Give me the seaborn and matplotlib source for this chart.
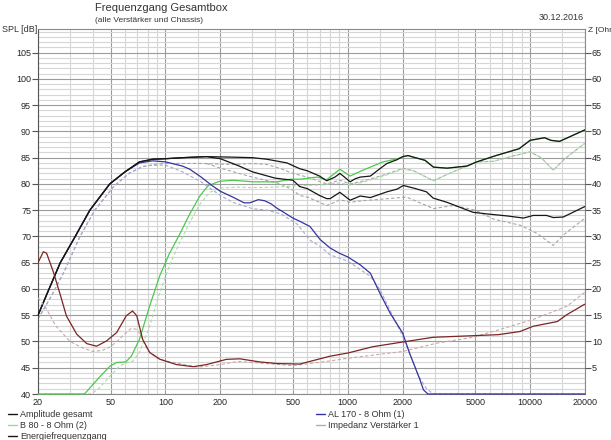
import numpy as np
import pandas as pd
import matplotlib
matplotlib.use("Agg")
import matplotlib.pyplot as plt
from matplotlib.lines import Line2D
from matplotlib.ticker import FixedLocator, NullFormatter
import seaborn as sns

sns.set_style("white")
plt.rcParams['font.family'] = ['Liberation Sans', 'DejaVu Sans']
plt.rcParams['font.size'] = 6.5

# ---- data (SPL in dB, impedance in Ohm) ----
amp_freq = [20, 23, 26.5, 32, 38.5, 49.5, 60, 72, 85, 100, 124, 168, 234, 300, 360, 464,
            545, 600, 700, 766, 850, 905, 960, 1030, 1100, 1170, 1330, 1500, 1640, 1860,
            2000, 2140, 2290, 2650, 2950, 3500, 4500, 5100, 6500, 8700, 10000, 12000,
            13000, 14500, 20000]
amp_spl = [55, 60, 65, 70, 75, 80, 82.3, 84.2, 84.7, 84.8, 85.0, 85.2, 85.1, 85.0, 84.7, 84.0,
           82.9, 82.5, 81.5, 80.6, 81.3, 82.0, 81.3, 80.4, 81.0, 81.3, 81.5, 82.9, 83.9, 84.6,
           85.2, 85.4, 85.1, 84.5, 83.2, 83.0, 83.4, 84.2, 85.4, 86.7, 88.3, 88.8,
           88.3, 88.1, 90.3]

energy_freq = [20, 23, 26.5, 32, 38.5, 49.5, 60, 72, 85, 100, 124, 168, 200, 250, 300, 400,
               500, 545, 600, 700, 766, 800, 905, 1030, 1170, 1330, 1640, 1860, 2020, 2300,
               2700, 2940, 3500, 4860, 5770, 7500, 9200, 10400, 12300, 13400, 15200, 19700,
               20000]
energy_spl = [55, 60, 65, 70, 75, 80, 82.3, 84.2, 84.7, 84.8, 85.0, 85.2, 84.8, 83.5, 82.3, 81.1,
              80.7, 79.5, 79.1, 77.8, 77.2, 77.2, 78.4, 76.9, 77.7, 77.4, 78.5, 79.0, 79.7, 79.2,
              78.5, 77.3, 76.5, 74.6, 74.3, 73.9, 73.5, 74.0, 74.0, 73.6, 73.7, 75.6,
              75.7]

b80_freq = [20, 36, 38.6, 43.7, 49.6, 54, 60.6, 65, 72, 82, 93, 105, 120, 136, 155, 172, 198,
            234, 303, 410, 483, 545, 680, 766, 905, 1030, 1170, 1560, 1880, 2020, 2140, 2290,
            2650, 2950, 3500, 4500, 5100, 6500, 8700, 10000, 12000, 13000, 14500, 20000]
b80_spl = [40, 40, 41.2, 43.3, 45.3, 46, 46.1, 47.2, 50.4, 56.8, 62.5, 66.7, 70.5, 74.3, 77.8, 79.7, 80.5,
           80.7, 80.4, 80.4, 80.9, 80.9, 81.3, 80.8, 82.8, 81.5, 82.4, 84.2, 84.8, 85.2, 85.4, 85.1,
           84.5, 83.2, 83.0, 83.4, 84.2, 85.4, 86.7, 88.3, 88.8, 88.3, 88.1, 90.3]

al170_freq = [20, 23, 26.5, 32, 38.5, 49.5, 60, 72, 85, 100, 124, 136, 157, 180, 200, 234, 270,
              290, 323, 350, 380, 408, 445, 500, 545, 620, 706, 800, 900, 1000, 1170, 1330,
              1500, 1707, 2000, 2181, 2483, 2600, 2750, 20000]
al170_spl = [55, 60, 65, 70, 75, 80, 82.3, 84.0, 84.4, 84.2, 83.4, 82.8, 81.3, 79.7, 78.6, 77.5, 76.4,
             76.4, 77.0, 76.8, 76.2, 75.4, 74.6, 73.5, 72.9, 71.9, 69.4, 67.8, 66.8, 66.1, 64.6, 63.0,
             59.2, 55.4, 51.6, 47.8, 42.8, 40.8, 40, 40]

imp_freq = [20, 21.4, 22.3, 24.3, 26.6, 28.6, 32.6, 37, 41.9, 47.5, 54, 61, 66, 69.6, 75, 82,
            93.5, 115, 142, 168, 216, 256, 330, 410, 545, 800, 1000, 1370, 2000, 2940, 4860,
            6700, 8800, 10400, 14100, 15900, 19700, 20000]
imp_ohm = [25, 27.1, 26.8, 23.2, 18.7, 14.9, 11.4, 9.6, 9.1, 10.1, 11.7, 14.9, 15.8, 14.9, 10.4, 7.9,
           6.6, 5.6, 5.2, 5.6, 6.6, 6.7, 6.1, 5.8, 5.7, 7.2, 7.8, 9.0, 9.9, 10.8, 11.1,
           11.3, 11.9, 12.9, 13.8, 15.1, 17.0, 17.1]

# dashed comparison curves
amp_ref_freq = [20, 24, 28, 34, 41, 52, 63, 75, 90, 100, 157, 234, 300, 360, 430, 500, 600, 766,
                905, 1030, 1200, 1540, 1880, 2000, 2300, 2950, 3500, 5100, 6300, 8000, 10000,
                11500, 13400, 15500, 19700, 20000]
amp_ref_spl = [54.3, 59, 63.5, 70, 75, 79.5, 82, 83.3, 83.8, 83.9, 83.9, 83.7, 83.9, 83.7, 82.9, 82.0,
               81.3, 80.0, 80.7, 80.0, 80.5, 81.6, 82.6, 83.0, 82.5, 80.6, 81.8, 84.2, 84.3, 85.3,
               86.1, 85.0, 82.6, 84.8, 87.6, 87.7]

energy_ref_freq = [168, 200, 300, 430, 500, 545, 600, 700, 766, 850, 905, 1030, 1200, 1540, 2100,
                   2950, 3800, 5000, 6300, 8900, 11000, 13400, 15500, 19700, 20000]
energy_ref_spl = [83.9, 83.0, 81.3, 80.0, 78.8, 77.8, 77.5, 76.5, 75.9, 76.5, 77.0, 76.5, 76.8, 77.1,
                  77.5, 75.3, 75.9, 75.0, 73.3, 72.1, 70.5, 68.3, 70.5, 73.3, 73.4]

b80_ref_freq = [20, 39, 43, 50, 56, 62, 66, 72, 82, 93, 105, 120, 136, 155, 175, 198, 250, 300,
                400, 500, 700, 900, 1030, 1200, 1540, 2000, 2300, 2950, 3500, 5100, 6300, 8000,
                10000, 11500, 13400, 15500, 19700, 20000]
b80_ref_spl = [40, 40, 41, 43.5, 45.3, 46, 46.2, 47.9, 53, 59.3, 64.4, 68.9, 72.7, 76.2, 78.4, 79.2,
               79.4, 79.3, 79.4, 79.6, 79.8, 80.2, 79.8, 80.3, 81.4, 82.8, 82.5, 80.6, 81.8, 84.2,
               84.3, 85.3, 86.1, 85.0, 82.6, 84.8, 87.6, 87.7]

al170_ref_freq = [20, 24, 28, 34, 41, 52, 63, 75, 82, 100, 124, 157, 200, 234, 300, 360, 430, 530,
                  620, 700, 800, 1000, 1330, 1500, 2000, 2450, 2700, 2950, 20000]
al170_ref_spl = [54.3, 59, 63.5, 70, 75, 79.5, 82, 83.3, 83.5, 83.6, 82.3, 80.4, 77.8, 76.5, 75.3,
                 75.0, 74.3, 72.3, 69.3, 68.2, 66.5, 65.3, 62.4, 59.9, 51.0, 43.4, 41.0, 40, 40]

imp_ref_freq = [20, 22, 25, 30, 35, 40, 45, 50, 55, 60, 65, 70, 75, 80, 90, 100, 150, 200, 250,
                300, 500, 800, 1000, 2000, 3100, 4860, 6700, 10400, 15900, 20000]
imp_ref_ohm = [18.3, 16.5, 13, 10, 8.8, 8.1, 8.3, 9, 10.2, 11.5, 12.5, 12.3, 10.5, 8.2, 6.8, 6.3,
               5.1, 5.6, 6.2, 6.0, 5.4, 6.3, 6.8, 8.1, 9.7, 10.8, 12.2, 14.2, 16.7, 19.4]

x_labels = [20, 50, 100, 200, 500, 1000, 2000, 5000, 10000, 20000]
x_minor = [30, 40, 60, 70, 80, 90, 150, 300, 400, 600, 700, 800, 900, 1500,
           3000, 4000, 6000, 7000, 8000, 9000, 15000]
spl_ticks = list(range(40, 110, 5))
ohm_ticks = list(range(5, 70, 5))

col_black = '#161616'
col_green = '#4cc94c'
col_blue = '#3434a0'
col_imp = '#7a2424'

fig = plt.figure(figsize=(6.11, 4.40), dpi=100)
fig.patch.set_facecolor('white')
ax = fig.add_axes([38 / 611, 46 / 440, 547 / 611, 365 / 440])
ax.set_xscale('log')
ax.set_xlim(20, 20000)
ax.set_ylim(40, 109.5)

ax.xaxis.set_major_locator(FixedLocator(x_labels))
ax.xaxis.set_minor_locator(FixedLocator(x_minor))
ax.xaxis.set_minor_formatter(NullFormatter())
ax.set_xticklabels([str(v) for v in x_labels])
ax.yaxis.set_major_locator(FixedLocator(spl_ticks))
ax.yaxis.set_minor_locator(FixedLocator(list(range(40, 110))))
ax.set_yticklabels([str(v) for v in spl_ticks])

ax.grid(which='major', color='#9c9c9c', lw=0.8)
ax.grid(which='minor', color='#d6d6d6', lw=0.8)
ax.set_axisbelow(True)
ax.tick_params(axis='x', which='both', length=0, pad=3, labelsize=6.5)
ax.tick_params(axis='y', which='major', length=4, width=0.8, color='#555555', pad=1, labelsize=6.5)
ax.tick_params(axis='y', which='minor', length=0)
for s in ax.spines.values():
    s.set_color('#8a8a8a')
    s.set_linewidth(0.8)
ax.spines['left'].set_color('#555555')
ax.set_xlabel('')
ax.set_ylabel('')

ax2 = ax.twinx()
ax2.set_ylim(0, 69.5)
ax2.yaxis.set_major_locator(FixedLocator(ohm_ticks))
ax2.set_yticklabels([str(v) for v in ohm_ticks])
ax2.tick_params(axis='y', length=4, width=0.8, color='#555555', pad=1, labelsize=6.5)
for s in ax2.spines.values():
    s.set_visible(False)

dash = (3, 2)
lw = 0.9

# dashed reference curves first
sns.lineplot(x=amp_ref_freq, y=amp_ref_spl, ax=ax, color='#a6a6a6', lw=0.8,
             estimator=None, sort=False, linestyle=(0, dash))
sns.lineplot(x=energy_ref_freq, y=energy_ref_spl, ax=ax, color='#a6a6a6', lw=0.8,
             estimator=None, sort=False, linestyle=(0, dash))
sns.lineplot(x=b80_ref_freq, y=b80_ref_spl, ax=ax, color='#a8dca8', lw=0.8,
             estimator=None, sort=False, linestyle=(0, dash))
sns.lineplot(x=al170_ref_freq, y=al170_ref_spl, ax=ax, color='#a8a8d0', lw=0.8,
             estimator=None, sort=False, linestyle=(0, dash))
sns.lineplot(x=imp_ref_freq, y=imp_ref_ohm, ax=ax2, color='#c8a8a8', lw=0.8,
             estimator=None, sort=False, linestyle=(0, dash))

# solid curves (not clipped, so the parts lying on the 40 dB floor stay visible)
sns.lineplot(x=b80_freq, y=b80_spl, ax=ax, color=col_green, lw=lw, estimator=None, sort=False,
             clip_on=False, zorder=5)
sns.lineplot(x=al170_freq, y=al170_spl, ax=ax, color=col_blue, lw=lw, estimator=None, sort=False,
             clip_on=False, zorder=5)
sns.lineplot(x=energy_freq, y=energy_spl, ax=ax, color=col_black, lw=lw, estimator=None, sort=False,
             zorder=6)
sns.lineplot(x=amp_freq, y=amp_spl, ax=ax, color=col_black, lw=lw, estimator=None, sort=False,
             zorder=6)
sns.lineplot(x=imp_freq, y=imp_ohm, ax=ax2, color=col_imp, lw=lw, estimator=None, sort=False)

ax.set_xlim(20, 20000)
ax.set_ylim(40, 109.5)
ax2.set_ylim(0, 69.5)
ax2.set_ylabel('')

# header texts
fig.text(95 / 611, 1 - 8 / 440, 'Frequenzgang Gesamtbox', fontsize=8, color='#333333', va='center')
fig.text(95 / 611, 1 - 21 / 440, '(alle Verstärker und Chassis)', fontsize=6, color='#333333', va='center')
fig.text(584 / 611, 1 - 17 / 440, '30.12.2016', fontsize=6.5, color='#333333', va='center', ha='right')
fig.text(2 / 611, 1 - 30 / 440, 'SPL [dB]', fontsize=6.5, color='#333333', va='center')
fig.text(588 / 611, 1 - 30 / 440, 'Z [Ohm]', fontsize=6, color='#333333', va='center')

# legend
legend_items = [
    ('Amplitude gesamt', col_black, 8, 414),
    ('B 80 - 8 Ohm (2)', '#8fe08f', 8, 425),
    ('Energiefrequenzgang', col_black, 8, 436),
    ('AL 170 - 8 Ohm (1)', col_blue, 316, 414),
    ('Impedanz Verstärker 1', '#c0a6b4', 316, 425),
]
for label, color, x0, y0 in legend_items:
    fy = 1 - y0 / 440
    fig.add_artist(Line2D([x0 / 611, (x0 + 9) / 611], [fy, fy], transform=fig.transFigure,
                          color=color, lw=1.0))
    fig.text((x0 + 12) / 611, fy, label, fontsize=6.5, color='#333333', va='center')

fig.savefig('out.png', dpi=100, facecolor='white')
